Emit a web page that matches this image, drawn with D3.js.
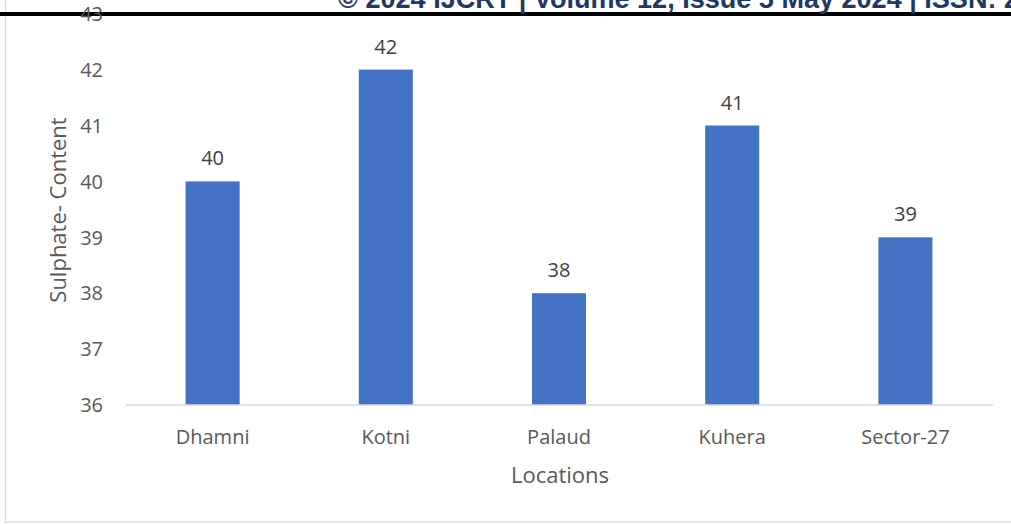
<!DOCTYPE html>
<html><head><meta charset="utf-8">
<script src="https://cdn.jsdelivr.net/npm/d3@7"></script>
<style>html,body{margin:0;padding:0;background:#fff;overflow:hidden}</style>
</head><body>
<svg id="c" width="1011" height="524"></svg>
<script>
const categories = ["Dhamni", "Kotni", "Palaud", "Kuhera", "Sector-27"];
const values = [40, 42, 38, 41, 39];
const yTicks = [36, 37, 38, 39, 40, 41, 42, 43];
const headerText = "© 2024 IJCRT | Volume 12, Issue 5 May 2024 | ISSN: 2320-2882";
const xTitle = "Locations";
const yTitle = "Sulphate- Content";

const svg = d3.select("#c");
const font = "'Open Sans', sans-serif";
const grey = "#595959";

// chart border
svg.append("rect").attr("x", 5.5).attr("y", -10).attr("width", 1020).attr("height", 532)
  .attr("fill", "#fff").attr("stroke", "#d9d9d9").attr("stroke-width", 1.3);

const x = d3.scaleBand().domain(categories).range([126, 992]).paddingInner(0.688).paddingOuter(0.344);
const y = d3.scaleLinear().domain([36, 43]).range([405, 13.7]);

// bars
svg.selectAll("rect.bar").data(values).enter().append("rect").attr("class", "bar")
  .attr("x", (d, i) => x(categories[i])).attr("width", x.bandwidth())
  .attr("y", d => y(d)).attr("height", d => y(36) - y(d)).attr("fill", "#4472c4");

// x axis line
svg.append("line").attr("x1", 126).attr("x2", 993).attr("y1", 405).attr("y2", 405)
  .attr("stroke", "#d9d9d9").attr("stroke-width", 1.5);

// header line
svg.append("rect").attr("x", 0).attr("y", 12).attr("width", 1011).attr("height", 4).attr("fill", "#000");

// header text
const ht = svg.append("text").attr("x", 338).attr("y", 8)
  .attr("font-family", "'Liberation Sans', Arial, sans-serif").attr("font-weight", "bold")
  .attr("font-size", 26).attr("fill", "#203864").text(headerText.slice(0, headerText.indexOf("ISSN: ") + 6));
const w = ht.node().getComputedTextLength();
ht.attr("font-size", 26 * 659 / w).text(headerText);

// y ticks
const yAxis = svg.append("g").selectAll("text").data(yTicks).enter().append("text")
  .attr("x", 103).attr("y", d => y(d)).attr("dy", "0.36em").attr("text-anchor", "end")
  .attr("font-family", font).attr("font-size", 20).attr("fill", grey).text(d => d);

// x labels
svg.append("g").selectAll("text").data(categories).enter().append("text")
  .attr("x", d => x(d) + x.bandwidth() / 2).attr("y", 444).attr("text-anchor", "middle")
  .attr("font-family", font).attr("font-size", 20).attr("fill", grey).text(d => d);

// data labels
svg.append("g").selectAll("text").data(values).enter().append("text")
  .attr("x", (d, i) => x(categories[i]) + x.bandwidth() / 2).attr("y", d => y(d) - 16)
  .attr("text-anchor", "middle").attr("font-family", font).attr("font-size", 20)
  .attr("fill", "#404040").text(d => d);

// axis titles
svg.append("text").attr("x", 560).attr("y", 483).attr("text-anchor", "middle")
  .attr("font-family", font).attr("font-size", 22).attr("fill", grey).text(xTitle);
svg.append("text").attr("transform", "translate(66,210) rotate(-90)").attr("text-anchor", "middle")
  .attr("font-family", font).attr("font-size", 22).attr("fill", grey).text(yTitle);
</script>
</body></html>
